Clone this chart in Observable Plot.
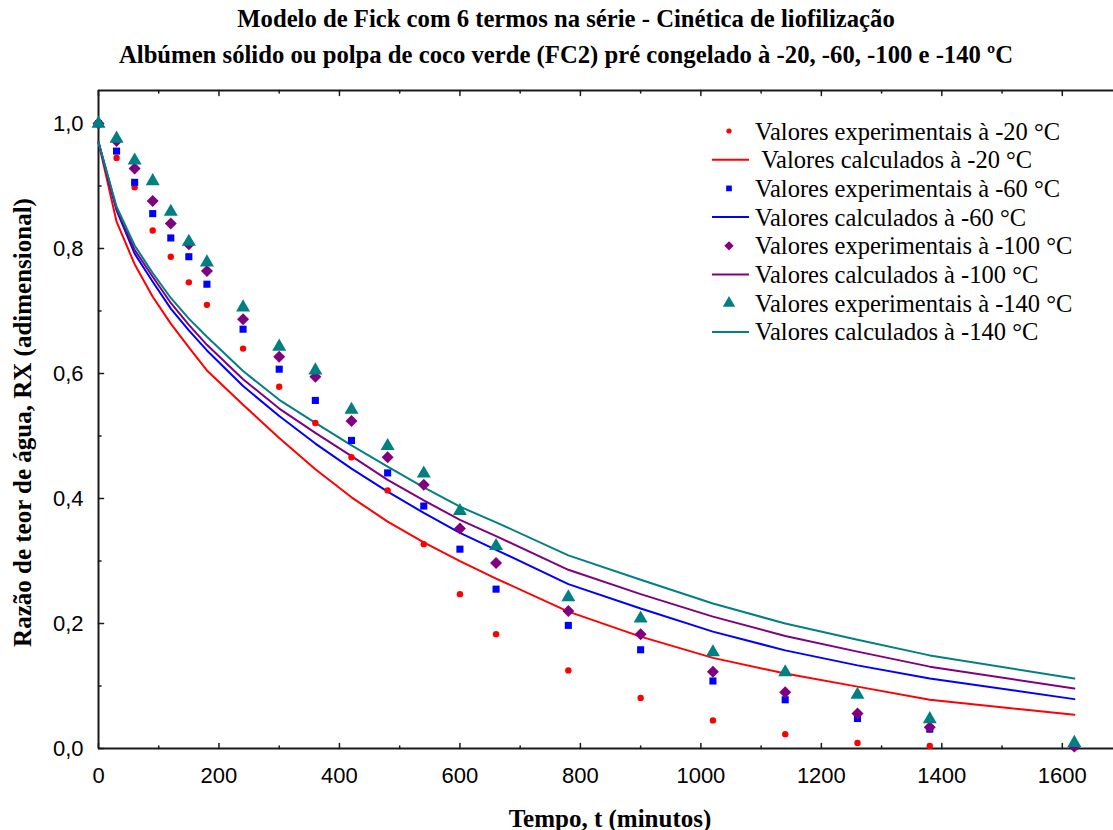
<!DOCTYPE html>
<html><head><meta charset="utf-8">
<script src="https://cdn.jsdelivr.net/npm/d3@7"></script>
<script src="https://cdn.jsdelivr.net/npm/@observablehq/plot@0.6"></script>
<style>
body{margin:0;background:#fff}
#wrap{position:relative;width:1113px;height:830px}
</style>
</head><body><div id="wrap"></div>
<script>
const times = [0,30,60,90,120,150,180,240,300,360,420,480,540,600,660,780,900,1020,1140,1260,1380,1620];
const exp20  = [1.0,0.945,0.898,0.829,0.787,0.746,0.710,0.640,0.579,0.521,0.466,0.413,0.327,0.247,0.183,0.125,0.081,0.045,0.023,0.009,0.004,0.002];
const exp60  = [1.0,0.956,0.906,0.856,0.817,0.787,0.743,0.671,0.607,0.557,0.493,0.441,0.388,0.319,0.255,0.197,0.158,0.108,0.078,0.048,0.031,0.004];
const exp100 = [1.0,0.972,0.928,0.876,0.840,0.807,0.764,0.687,0.627,0.595,0.524,0.466,0.422,0.352,0.297,0.220,0.183,0.123,0.090,0.056,0.034,0.003];
const exp140 = [1.0,0.976,0.941,0.908,0.859,0.811,0.778,0.706,0.643,0.605,0.542,0.484,0.440,0.380,0.324,0.242,0.208,0.154,0.122,0.086,0.047,0.009];
const calc20  = [0.970,0.843,0.775,0.723,0.680,0.642,0.605,0.550,0.497,0.447,0.402,0.363,0.330,0.300,0.272,0.219,0.179,0.145,0.120,0.099,0.078,0.054];
const calc60  = [0.970,0.861,0.792,0.747,0.704,0.669,0.637,0.580,0.532,0.488,0.448,0.411,0.377,0.345,0.318,0.263,0.224,0.187,0.157,0.133,0.112,0.079];
const calc100 = [0.970,0.864,0.798,0.755,0.713,0.678,0.646,0.591,0.544,0.505,0.468,0.430,0.397,0.366,0.340,0.286,0.247,0.211,0.180,0.155,0.131,0.096];
const calc140 = [0.970,0.867,0.805,0.761,0.721,0.688,0.659,0.604,0.558,0.521,0.485,0.451,0.418,0.387,0.362,0.309,0.270,0.232,0.200,0.174,0.149,0.112];

const temps = ["-20","-60","-100","-140"];
const colors = ["#ff0000","#0000ff","#800080","#008080"];
const symbols = ["circle","square","diamond2","triangle"];
const radii = [3.2,4,5.4,5.2];

const xMajor = [0,200,400,600,800,1000,1200,1400,1600];
const xMinor = [100,300,500,700,900,1100,1300,1500];
const yMajor = [0,0.2,0.4,0.6,0.8,1.0];
const yMinor = [0.1,0.3,0.5,0.7,0.9];
const xMax = 1685, yMax = 1.053;

const title1 = "Modelo de Fick com 6 termos na série - Cinética de liofilização";
const title2 = "Albúmen sólido ou polpa de coco verde (FC2) pré congelado à -20, -60, -100 e -140 ºC";
const xLabel = "Tempo, t (minutos)";
const yLabel = "Razão de teor de água, RX (adimensional)";

const expSeries = [exp20, exp60, exp100, exp140];
const calcSeries = [calc20, calc60, calc100, calc140];
const expRows = [], calcRows = [];
temps.forEach((t, i) => {
  times.forEach((tm, j) => {
    expRows.push({t: tm, v: expSeries[i][j], s: i});
    calcRows.push({t: tm, v: calcSeries[i][j], s: i});
  });
});

const tickShape = {draw(ctx, l){ ctx.moveTo(0,0); ctx.lineTo(0,-l); }};
const serif = "'Liberation Serif','Times New Roman',serif";
const axisCol = "#1a1a1a";
const txt = {fontFamily: serif, fontWeight: "bold", textAnchor: "middle", lineAnchor: "middle"};

const marks = [
  Plot.ruleX([0], {y1: 0, y2: yMax, stroke: axisCol, strokeWidth: 2}),
  Plot.ruleY([0], {x1: 0, x2: xMax, stroke: axisCol, strokeWidth: 2}),
  Plot.ruleY([yMax], {x1: 0, x2: xMax, stroke: axisCol, strokeWidth: 2}),
  Plot.vector(xMajor, {x: d => d, y: 0, rotate: 0, length: 5, anchor: "start", shape: tickShape, stroke: axisCol, strokeWidth: 1.5}),
  Plot.vector(xMinor, {x: d => d, y: 0, rotate: 0, length: 2.5, anchor: "start", shape: tickShape, stroke: axisCol, strokeWidth: 1.5}),
  Plot.vector(xMajor, {x: d => d, y: yMax, rotate: 180, length: 5, anchor: "start", shape: tickShape, stroke: axisCol, strokeWidth: 1.5}),
  Plot.vector(xMinor, {x: d => d, y: yMax, rotate: 180, length: 2.5, anchor: "start", shape: tickShape, stroke: axisCol, strokeWidth: 1.5}),
  Plot.vector(yMajor, {x: 0, y: d => d, rotate: 90, length: 5, anchor: "start", shape: tickShape, stroke: axisCol, strokeWidth: 1.5}),
  Plot.vector(yMinor, {x: 0, y: d => d, rotate: 90, length: 2.5, anchor: "start", shape: tickShape, stroke: axisCol, strokeWidth: 1.5}),
  Plot.axisX({ticks: xMajor, tickSize: 0, tickPadding: 19, tickFormat: d => String(d), label: null, fontSize: 22}),
  Plot.axisY({ticks: yMajor, tickSize: 0, tickPadding: 15, tickFormat: d => d.toFixed(1).replace(".", ","), label: null, fontSize: 22}),
  Plot.line(calcRows, {x: "t", y: "v", z: "s", stroke: d => colors[d.s], strokeWidth: 2}),
  ...temps.map((t, i) => Plot.dot(expRows.filter(d => d.s === i), {x: "t", y: "v", symbol: symbols[i], r: radii[i], fill: colors[i], stroke: "none"})),
  Plot.text([title1], {frameAnchor: "top", dx: -40, dy: -71, fontSize: 24.7, ...txt}),
  Plot.text([title2], {frameAnchor: "top", dx: -40, dy: -35, fontSize: 24.7, ...txt}),
  Plot.text([xLabel], {frameAnchor: "bottom", dx: 4, dy: 70, fontSize: 25, ...txt}),
  Plot.text([yLabel], {frameAnchor: "left", dx: -76, dy: 3, rotate: -90, fontSize: 25, ...txt})
];

const chart = Plot.plot({
  width: 1113, height: 830,
  marginLeft: 98, marginRight: 0, marginTop: 90, marginBottom: 82,
  x: {domain: [0, xMax]},
  y: {domain: [0, yMax]},
  style: {fontFamily: "'Liberation Sans', Arial, sans-serif", color: "#000", background: "#fff", overflow: "visible"},
  marks
});
const wrap = document.getElementById("wrap");
wrap.appendChild(chart);

// legend (top-right, inside the plot area)
const legendItems = [];
temps.forEach((t, i) => {
  legendItems.push({label: `Valores experimentais à ${t} °C`, kind: "dot", i});
  legendItems.push({label: (i === 0 ? "\u00a0" : "") + `Valores calculados à ${t} °C`, kind: "line", i});
});
const legSizes = [2.6, 3.2, 4.2, 4.6];
const symMap = {circle: d3.symbolCircle, square: d3.symbolSquare, diamond2: d3.symbolDiamond2, triangle: d3.symbolTriangle};
const leg = d3.create("svg").attr("width", 413).attr("height", 250)
  .style("position", "absolute").style("left", "700px").style("top", "100px");
legendItems.forEach((it, k) => {
  const cy = 31 + k * 28.7;
  if (it.kind === "dot") {
    const r = legSizes[it.i];
    leg.append("path")
      .attr("d", d3.symbol(symMap[symbols[it.i]], Math.PI * r * r)())
      .attr("transform", `translate(29,${cy})`)
      .attr("fill", colors[it.i]);
  } else {
    leg.append("line").attr("x1", 12).attr("x2", 49).attr("y1", cy).attr("y2", cy)
      .attr("stroke", colors[it.i]).attr("stroke-width", 2);
  }
  leg.append("text").attr("x", 55).attr("y", cy).attr("dy", "0.35em")
    .attr("font-family", serif).attr("font-size", 24.5).attr("fill", "#000")
    .style("white-space", "pre")
    .text(it.label);
});
wrap.appendChild(leg.node());
</script>
</body></html>
